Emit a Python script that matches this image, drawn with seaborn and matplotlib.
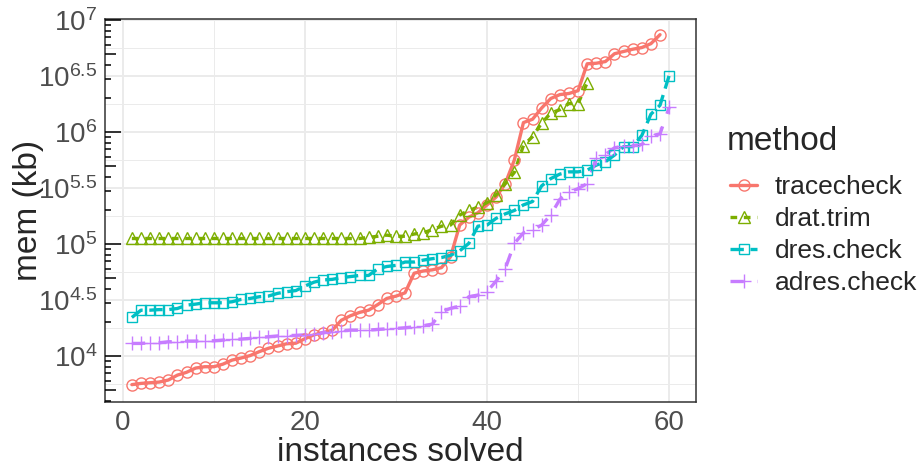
import numpy as np
import pandas as pd
import seaborn as sns
import matplotlib.pyplot as plt
from matplotlib.lines import Line2D
from matplotlib.ticker import FixedLocator, NullFormatter

# ── Data: log10(mem in kb) per solved instance ──────────────────────────────
methods = ["tracecheck", "drat.trim", "dres.check", "adres.check"]

tracecheck_log10 = [
    3.745, 3.756, 3.762, 3.768, 3.786, 3.83, 3.855, 3.893, 3.905, 3.905,
    3.928, 3.964, 3.983, 4.005, 4.04, 4.07, 4.09, 4.11, 4.115, 4.155,
    4.19, 4.21, 4.23, 4.32, 4.36, 4.39, 4.41, 4.46, 4.515, 4.535,
    4.565, 4.74, 4.76, 4.77, 4.79, 4.887, 5.17, 5.24, 5.28, 5.35,
    5.42, 5.54, 5.75, 6.085, 6.115, 6.215, 6.30, 6.335, 6.345, 6.37,
    6.61, 6.615, 6.63, 6.70, 6.72, 6.74, 6.755, 6.79, 6.87,
]
drat_trim_log10 = [
    5.05, 5.05, 5.05, 5.05, 5.05, 5.05, 5.05, 5.05, 5.05, 5.05,
    5.05, 5.05, 5.05, 5.05, 5.05, 5.05, 5.05, 5.05, 5.05, 5.05,
    5.05, 5.05, 5.05, 5.05, 5.05, 5.05, 5.06, 5.07, 5.08, 5.07,
    5.07, 5.09, 5.10, 5.13, 5.16, 5.17, 5.26, 5.30, 5.33, 5.37,
    5.44, 5.54, 5.64, 5.88, 5.96, 6.08, 6.17, 6.20, 6.255, 6.255,
    6.44,
]
dres_check_log10 = [
    4.345, 4.41, 4.41, 4.415, 4.415, 4.425, 4.455, 4.464, 4.476, 4.476,
    4.476, 4.485, 4.506, 4.515, 4.53, 4.536, 4.56, 4.575, 4.585, 4.625,
    4.66, 4.68, 4.685, 4.70, 4.71, 4.72, 4.72, 4.78, 4.80, 4.81,
    4.84, 4.84, 4.857, 4.87, 4.88, 4.90, 4.94, 5.006, 5.16, 5.17,
    5.23, 5.27, 5.30, 5.35, 5.38, 5.52, 5.585, 5.625, 5.645, 5.645,
    5.66, 5.705, 5.735, 5.795, 5.87, 5.87, 5.97, 6.16, 6.24, 6.505,
]
adres_check_log10 = [
    4.113, 4.113, 4.119, 4.119, 4.128, 4.128, 4.134, 4.134, 4.137, 4.137,
    4.143, 4.149, 4.152, 4.158, 4.167, 4.173, 4.18, 4.183, 4.185, 4.19,
    4.196, 4.21, 4.217, 4.226, 4.232, 4.232, 4.232, 4.238, 4.244, 4.247,
    4.253, 4.262, 4.27, 4.286, 4.396, 4.426, 4.446, 4.53, 4.545, 4.575,
    4.67, 4.78, 5.006, 5.10, 5.125, 5.17, 5.26, 5.40, 5.465, 5.495,
    5.54, 5.765, 5.80, 5.86, 5.875, 5.878, 5.89, 5.965, 5.985, 6.22,
]

y_breaks = [4, 4.5, 5, 5.5, 6, 6.5, 7]
y_minor = [3.75, 4.25, 4.75, 5.25, 5.75, 6.25, 6.75]
x_breaks = [0, 20, 40, 60]
x_minor = [10, 30, 50]

# ggplot hue palette, open shapes, ggplot linetypes
palette = dict(zip(methods, ["#F8766D", "#7CAE00", "#00BFC4", "#C77CFF"]))
marker_map = dict(zip(methods, ["o", "^", "s", "+"]))
marker_size = dict(zip(methods, [8.0, 9.0, 7.5, 10.0]))
dash_map = dict(zip(methods, ["", (2, 2), (4, 2), (4, 4)]))

frames = []
for name, vals in zip(methods, [tracecheck_log10, drat_trim_log10,
                                dres_check_log10, adres_check_log10]):
    frames.append(pd.DataFrame({
        "instances": np.arange(1, len(vals) + 1),
        "mem": 10.0 ** np.array(vals),
        "method": name,
    }))
df = pd.concat(frames, ignore_index=True)

# ── Figure ───────────────────────────────────────────────────────────────────
sns.set_style("white")
plt.rcParams["font.family"] = ["Liberation Sans", "DejaVu Sans"]
plt.rcParams["mathtext.fontset"] = "custom"
plt.rcParams["mathtext.rm"] = "Liberation Sans"
plt.rcParams["mathtext.it"] = "Liberation Sans:italic"

fig = plt.figure(figsize=(9.2, 4.71), dpi=100)
ax = fig.add_axes([105 / 920, 1 - 402 / 471, 591 / 920, 383 / 471])

LW = 2.4
# lines layer
sns.lineplot(data=df, x="instances", y="mem", hue="method", style="method",
             hue_order=methods, style_order=methods, palette=palette,
             dashes=dash_map, markers=False, errorbar=None, legend=False,
             linewidth=LW, ax=ax, zorder=2)
n_lines = len(ax.lines)
# points layer (open shapes, set per line afterwards)
sns.lineplot(data=df, x="instances", y="mem", hue="method",
             hue_order=methods, palette=palette, errorbar=None, legend=False,
             linestyle="none", ax=ax, zorder=3)
for line, name in zip(ax.lines[n_lines:], methods):
    line.set_marker(marker_map[name])
    line.set_markerfacecolor("none")
    line.set_markeredgecolor(palette[name])
    line.set_markeredgewidth(1.0)
    line.set_markersize(marker_size[name])

ax.set_yscale("log")
ax.set_xlim(-1.95, 62.95)
ax.set_ylim(10 ** 3.59, 10 ** 7.01)

ax.set_yticks([10 ** v for v in y_breaks],
              [r"$\mathregular{10^{%g}}$" % v for v in y_breaks])
ax.yaxis.set_minor_locator(FixedLocator([10 ** v for v in y_minor]))
ax.yaxis.set_minor_formatter(NullFormatter())
ax.set_xticks(x_breaks)
ax.xaxis.set_minor_locator(FixedLocator(x_minor))

ax.grid(which="major", color="#EBEBEB", linewidth=1.4, zorder=0)
ax.grid(which="minor", color="#EBEBEB", linewidth=0.7, zorder=0)
ax.set_axisbelow(True)
for sp in ax.spines.values():
    sp.set_color("#333333")
    sp.set_linewidth(1.1)

ax.tick_params(which="major", direction="out", length=3.5, width=1.1,
               color="#333333", labelsize=20, labelcolor="#4D4D4D", pad=2)
ax.tick_params(which="minor", length=0)

# annotation_logticks on the left side
ax_w_px = 591.0
for dec in range(3, 8):
    for m in range(1, 10):
        v = m * 10.0 ** dec
        if not (10 ** 3.59 <= v <= 10 ** 7.01):
            continue
        L = 16 if m == 1 else (11 if m == 5 else 6)
        ax.plot([0, L / ax_w_px], [v, v], transform=ax.get_yaxis_transform(),
                color="black", linewidth=1.1, solid_capstyle="butt",
                zorder=4, clip_on=False)

ax.set_xlabel("instances solved", fontsize=24, labelpad=1)
ax.set_ylabel("mem (kb)", fontsize=24, labelpad=-4)

# legend: title as its own text, keys + labels below it
fig.text(727 / 920, 1 - 150 / 471, "method", fontsize=24, ha="left",
         va="baseline")
handles = []
for name in methods:
    kw = dict(color=palette[name], linewidth=LW, marker=marker_map[name],
              markerfacecolor="none", markeredgecolor=palette[name],
              markeredgewidth=1.0, markersize=marker_size[name])
    if dash_map[name]:
        kw["dashes"] = dash_map[name]
    handles.append(Line2D([], [], **kw))
leg = fig.legend(handles, methods, loc="upper left",
                 bbox_to_anchor=(706 / 920, 1 - 151 / 471), frameon=False,
                 fontsize=19, handlelength=1.05, handletextpad=0.65,
                 labelspacing=0.31)

fig.savefig("out.png", dpi=100)
